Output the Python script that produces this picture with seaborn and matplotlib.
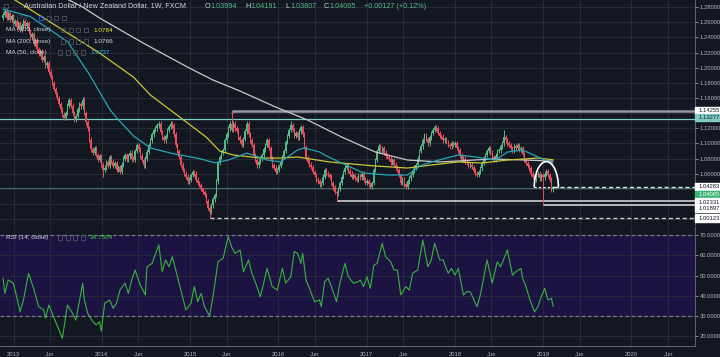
import numpy as np
import pandas as pd
import seaborn as sns
import matplotlib.pyplot as plt
from matplotlib.patches import Arc, Rectangle

# weekly closes, AUD/NZD (FXCM)
closes = [
    1.270, 1.275, 1.266, 1.272, 1.263, 1.268, 1.258, 1.262, 1.254, 1.259,
    1.250, 1.256, 1.262, 1.255, 1.259, 1.248, 1.240, 1.244, 1.232, 1.236,
    1.225, 1.218, 1.222, 1.210, 1.214, 1.203, 1.206, 1.195, 1.188, 1.180,
    1.172, 1.165, 1.160, 1.152, 1.145, 1.138, 1.134, 1.140, 1.150, 1.157,
    1.150, 1.140, 1.131, 1.136, 1.145, 1.152, 1.149, 1.158, 1.140, 1.128,
    1.120, 1.105, 1.092, 1.088, 1.094, 1.085, 1.078, 1.083, 1.072, 1.065,
    1.068, 1.075, 1.070, 1.082, 1.076, 1.070, 1.074, 1.065, 1.069, 1.062,
    1.072, 1.080, 1.085, 1.079, 1.083, 1.088, 1.080, 1.078, 1.090, 1.098,
    1.092, 1.084, 1.078, 1.071, 1.080, 1.089, 1.098, 1.104, 1.112, 1.118,
    1.120, 1.124, 1.126, 1.115, 1.108, 1.104, 1.110, 1.118, 1.122, 1.126,
    1.124, 1.112, 1.098, 1.090, 1.082, 1.072, 1.065, 1.060, 1.056, 1.050,
    1.052, 1.058, 1.062, 1.060, 1.052, 1.048, 1.045, 1.040, 1.036, 1.032,
    1.024, 1.015, 1.010, 1.018, 1.026, 1.032, 1.050, 1.074, 1.082, 1.088,
    1.091, 1.104, 1.112, 1.120, 1.126, 1.118, 1.126, 1.120, 1.117, 1.108,
    1.104, 1.098, 1.106, 1.116, 1.126, 1.112, 1.104, 1.098, 1.085, 1.078,
    1.071, 1.076, 1.080, 1.085, 1.092, 1.098, 1.104, 1.094, 1.080, 1.071,
    1.068, 1.062, 1.065, 1.070, 1.076, 1.082, 1.090, 1.102, 1.110, 1.118,
    1.124, 1.118, 1.110, 1.114, 1.108, 1.116, 1.122, 1.112, 1.095, 1.081,
    1.076, 1.072, 1.069, 1.062, 1.058, 1.052, 1.050, 1.046, 1.048, 1.056,
    1.065, 1.060, 1.058, 1.056, 1.048, 1.042, 1.036, 1.034, 1.040, 1.048,
    1.056, 1.062, 1.068, 1.071, 1.064, 1.060, 1.056, 1.058, 1.054, 1.052,
    1.058, 1.055, 1.060, 1.052, 1.048, 1.050, 1.046, 1.043, 1.048, 1.065,
    1.078, 1.090, 1.096, 1.091, 1.094, 1.088, 1.084, 1.082, 1.080, 1.075,
    1.078, 1.072, 1.068, 1.065, 1.058, 1.048, 1.052, 1.046, 1.043, 1.050,
    1.054, 1.058, 1.064, 1.068, 1.071, 1.080, 1.090, 1.096, 1.104, 1.111,
    1.106, 1.100, 1.108, 1.114, 1.118, 1.122, 1.120, 1.114, 1.110, 1.109,
    1.104, 1.106, 1.102, 1.098, 1.096, 1.100, 1.098, 1.100, 1.094, 1.091,
    1.084, 1.078, 1.080, 1.076, 1.074, 1.070, 1.072, 1.069, 1.064, 1.060,
    1.058, 1.062, 1.067, 1.074, 1.080, 1.085, 1.090, 1.094, 1.088, 1.082,
    1.078, 1.084, 1.090, 1.091, 1.096, 1.100, 1.108, 1.104, 1.100, 1.098,
    1.094, 1.091, 1.096, 1.094, 1.098, 1.092, 1.094, 1.086, 1.078, 1.074,
    1.070, 1.067, 1.060, 1.056, 1.052, 1.058, 1.060, 1.054, 1.058, 1.055,
    1.060, 1.063, 1.058, 1.052, 1.0394, 1.04065,
]
first_open = 1.266
first_week = '2012-11-19'

# notable wick extremes (week index -> price)
wick_highs = {47: 1.162, 135: 1.14255, 170: 1.129, 256: 1.125, 296: 1.118}
wick_lows = {59: 1.055, 122: 1.00123, 197: 1.02331, 319: 1.01897}

# moving averages (week index, value)
ma50_idx = [0, 16, 38, 51, 63, 67, 77, 87, 100, 116, 125, 133, 144, 156, 164, 168, 174,
            178, 187, 190, 200, 213, 227, 239, 246, 253, 269, 279, 291, 298, 307, 316, 325]
ma50_val = [1.2774, 1.2677, 1.2346, 1.1910, 1.1450, 1.1340, 1.1100, 1.0940, 1.0867, 1.0800,
            1.0745, 1.0780, 1.0873, 1.0781, 1.0755, 1.0821, 1.0913, 1.0940, 1.0887, 1.0847,
            1.0741, 1.0609, 1.0583, 1.0583, 1.0700, 1.0755, 1.0847, 1.0821, 1.0781, 1.0887,
            1.0913, 1.0821, 1.0737]
ma100_idx = [0, 7, 57, 77, 87, 109, 120, 128, 136, 152, 164, 174, 193, 213, 220, 239, 253,
             269, 283, 298, 316, 325]
ma100_val = [1.298, 1.2895, 1.2194, 1.1877, 1.1640, 1.1270, 1.1084, 1.0900, 1.0847, 1.0807,
             1.0807, 1.0821, 1.0755, 1.0715, 1.0702, 1.0675, 1.0715, 1.0755, 1.0741, 1.0781,
             1.0807, 1.0784]
ma200_idx = [0, 14, 27, 47, 57, 83, 109, 124, 140, 161, 180, 200, 220, 239, 258, 289, 308, 325]
ma200_val = [1.325, 1.315, 1.303, 1.2802, 1.2657, 1.2323, 1.2008, 1.1838, 1.1692, 1.1481,
             1.1309, 1.1085, 1.0886, 1.0781, 1.0755, 1.0794, 1.0781, 1.0766]

# RSI(14)
rsi_idx = [0, 1, 3, 6, 8, 10, 12, 15, 18, 21,
           24, 25, 27, 29, 33, 35, 38, 41, 43, 47,
           48, 50, 53, 55, 57, 58, 60, 63, 65, 67,
           69, 72, 74, 76, 78, 79, 81, 84, 85, 88,
           92, 94, 96, 98, 100, 102, 105, 108, 111, 113,
           115, 117, 119, 122, 124, 127, 130, 133, 135, 137,
           140, 142, 145, 147, 150, 152, 156, 159, 162, 165,
           167, 170, 172, 174, 176, 177, 179, 181, 184, 187,
           188, 190, 192, 194, 197, 199, 202, 204, 207, 210,
           211, 213, 215, 217, 219, 221, 224, 226, 229, 231,
           233, 235, 238, 240, 242, 245, 248, 251, 253, 255,
           258, 260, 263, 265, 267, 269, 272, 274, 276, 280,
           282, 286, 289, 292, 294, 298, 301, 303, 306, 307,
           309, 311, 314, 316, 318, 320, 322, 324, 325]
rsi_val = [48.6, 41.2, 47.8, 46.2, 39.5, 32.1, 37.9, 51.1, 43.7, 34.6,
           33.0, 28.9, 35.4, 31.3, 23.0, 19.0, 35.4, 31.3, 28.0, 46.2,
           37.9, 31.3, 27.2, 25.6, 27.2, 22.5, 36.3, 37.9, 33.8, 36.3,
           42.8, 46.2, 41.2, 47.8, 52.7, 50.2, 45.3, 40.4, 54.3, 56.0,
           65.1, 51.9, 57.7, 54.3, 59.3, 52.7, 42.8, 33.0, 36.3, 44.5,
           37.1, 41.2, 34.6, 30.0, 39.5, 56.8, 58.5, 69.2, 64.2, 60.9,
           62.6, 51.9, 57.7, 51.1, 44.5, 39.5, 53.5, 44.5, 42.8, 53.5,
           46.2, 49.4, 61.8, 61.0, 56.0, 61.0, 47.8, 43.7, 37.1, 37.9,
           34.6, 47.0, 48.6, 44.5, 37.1, 46.2, 56.0, 49.4, 46.2, 47.0,
           47.8, 44.5, 49.4, 43.7, 55.0, 56.0, 65.9, 59.3, 56.8, 52.7,
           52.7, 40.4, 44.5, 42.8, 51.1, 52.7, 67.5, 54.3, 57.7, 65.9,
           57.7, 57.7, 51.1, 53.5, 50.2, 53.5, 40.4, 42.0, 42.0, 34.6,
           40.4, 57.7, 46.2, 56.8, 54.3, 62.6, 50.2, 51.9, 53.5, 48.6,
           44.5, 38.8, 32.1, 34.6, 39.5, 43.7, 37.9, 38.8, 34.75]

price_grid = [1.00, 1.02, 1.04, 1.06, 1.08, 1.10, 1.12, 1.14, 1.16, 1.18, 1.20, 1.22, 1.24, 1.26, 1.28]
price_hidden = [1.00, 1.02, 1.04, 1.14]
rsi_grid = [20, 30, 40, 50, 60, 70]

# horizontal levels drawn on the chart
lvl_top = 1.14255
lvl_teal = 1.13277
lvl_dash = 1.04283
lvl_last = 1.04065
lvl_w1 = 1.02331
lvl_w2 = 1.01897
lvl_low = 1.00123

BG = '#131722'
GRID = '#2a2e39'
TXT = '#b2b5be'
UP = '#53b987'
DOWN = '#eb4d5c'

sns.set_style('dark', {'axes.facecolor': BG, 'figure.facecolor': BG})
plt.rcParams['font.family'] = ['Liberation Sans', 'DejaVu Sans']

W, H = 720, 357


def px_box(x0, y0, x1, y1):
    return [x0 / W, 1 - y1 / H, (x1 - x0) / W, (y1 - y0) / H]


def ptext(x, y, s, **kw):
    kw.setdefault('va', 'center')
    kw.setdefault('fontsize', 4.6)
    return fig.text(x / W, 1 - y / H, s, **kw)


def icons(x0, y, n, first=None):
    # little button squares next to each legend row
    for i in range(n):
        c = first if (first and i == 0) else '#50535e'
        fig.patches.append(Rectangle(((x0 + i * 7.5) / W, 1 - (y + 2.2) / H), 4.4 / W, 4.4 / H,
                                     transform=fig.transFigure, facecolor='none', edgecolor=c,
                                     lw=0.6, zorder=5))


fig = plt.figure(figsize=(7.2, 3.57), dpi=100)
ax = fig.add_axes(px_box(0, 0, 695, 225))
ax_rsi = fig.add_axes(px_box(0, 227, 695, 346), sharex=ax)

dates = pd.date_range(first_week, periods=len(closes), freq='7D')
df = pd.DataFrame({'date': dates, 'close': closes})
df['open'] = df['close'].shift(1).fillna(first_open)
df['high'] = df[['open', 'close']].max(axis=1) + 0.003
df['low'] = df[['open', 'close']].min(axis=1) - 0.003
for k, v in wick_highs.items():
    df.loc[k, 'high'] = v
for k, v in wick_lows.items():
    df.loc[k, 'low'] = v
cols = np.where(df['close'] >= df['open'], UP, DOWN)

# horizontal levels (behind candles)
x_end = pd.Timestamp('2020-10-01')
ax.axhline(lvl_teal, color='#80cbc4', lw=0.9, zorder=1)
ax.axhline(lvl_last, color='#3f6f6c', lw=0.7, zorder=1)
ax.hlines(lvl_top, dates[135], x_end, color='#9598a1', lw=1.8, zorder=1)
ax.vlines(dates[135], lvl_top - 0.004, lvl_top, color='#9598a1', lw=1.0, zorder=1)
ax.hlines(lvl_w1, dates[197], x_end, color='#e0e0e0', lw=1.1, zorder=1)
ax.hlines(lvl_w2, dates[319], x_end, color='#e0e0e0', lw=1.1, zorder=1)
ax.hlines(lvl_low, dates[122], x_end, color='#c8c8c8', lw=1.0, ls=(0, (3, 2)), zorder=1)
ax.hlines(lvl_dash, dates[-1], x_end, color='#e0e0e0', lw=1.0, ls=(0, (3, 2)), zorder=1)

# candles
ax.vlines(df['date'], df['low'], df['high'], colors=cols, lw=0.7, zorder=3)
body = (df['close'] - df['open']).abs().clip(lower=0.0010)
ax.bar(df['date'], body, bottom=df[['open', 'close']].min(axis=1), width=5.5,
       color=cols, linewidth=0, zorder=3)

# moving averages
for idx, val, c in [(ma200_idx, ma200_val, '#c9c9c9'), (ma100_idx, ma100_val, '#c8c832'),
                    (ma50_idx, ma50_val, '#26a6b4')]:
    sns.lineplot(x=dates[idx], y=val, ax=ax, color=c, lw=0.9, sort=False, zorder=4)

# arc drawn over the last candles
arc_mid = dates[321]
ax.add_patch(Arc((arc_mid, 1.042), 100, 0.068, theta1=0, theta2=180,
                 color='white', lw=1.2, zorder=5))
ax.hlines(1.042, arc_mid - pd.Timedelta(days=50), arc_mid + pd.Timedelta(days=50),
          color='white', lw=0.8, ls=(0, (2, 2)), zorder=5)

# RSI pane
ax_rsi.axhspan(30, 70, color='#1d1342', zorder=0)
for lv in (30, 70):
    ax_rsi.axhline(lv, color='#787b86', lw=0.9, ls=(0, (3, 2)), zorder=1)
sns.lineplot(x=dates[rsi_idx], y=rsi_val, ax=ax_rsi, color='#35b53e', lw=0.8, sort=False, zorder=3)

# axes styling
x_ticks, x_labels = [], []
for yr in range(2013, 2021):
    x_ticks += [pd.Timestamp(f'{yr}-01-01'), pd.Timestamp(f'{yr}-06-01')]
    x_labels += [str(yr), 'Jun']

for a in (ax, ax_rsi):
    a.set_facecolor(BG)
    a.grid(True, color=GRID, lw=0.6, zorder=0)
    a.set_axisbelow(True)
    a.set_xlabel('')
    a.set_ylabel('')
    for s in ('top', 'left', 'bottom'):
        a.spines[s].set_visible(False)
    a.spines['right'].set_color('#5d606b')
    a.spines['right'].set_linewidth(0.8)
    a.yaxis.tick_right()
    a.tick_params(axis='y', length=2, width=0.5, colors=TXT, labelsize=4.2, pad=1.5)

ax.set_xlim(pd.Timestamp('2012-11-06'), pd.Timestamp('2020-09-20'))
ax.set_ylim(0.99223, 1.2895)
ax.set_yticks(price_grid)
ax.set_yticklabels(['' if p in price_hidden else f'{p:.5f}' for p in price_grid])
ax.tick_params(axis='x', length=0, labelbottom=False)

ax_rsi.set_ylim(15.2, 73.95)
ax_rsi.set_yticks(rsi_grid)
ax_rsi.set_yticklabels([f'{v:.4f}' for v in rsi_grid])
ax_rsi.set_xticks(x_ticks)
ax_rsi.set_xticklabels(x_labels)
ax_rsi.tick_params(axis='x', length=0, colors=TXT, labelsize=4.2, pad=4)
ax_rsi.spines['bottom'].set_visible(True)
ax_rsi.spines['bottom'].set_color('#5d606b')
ax_rsi.spines['bottom'].set_linewidth(0.8)

# price tags on the right scale
for y, s, bg, fg in [(110.3, '1.14255', '#ffffff', '#131722'), (117.7, '1.13277', '#80cbc4', '#131722'),
                     (186.2, '1.04283', '#ffffff', '#131722'), (194.3, '1.04065', '#3cb371', '#ffffff'),
                     (202.0, '1.02331', '#ffffff', '#131722'), (208.7, '1.01897', '#ffffff', '#131722'),
                     (218.0, '1.00123', '#ffffff', '#131722')]:
    fig.patches.append(Rectangle((695 / W, 1 - (y + 3.6) / H), 25 / W, 7.2 / H,
                                 transform=fig.transFigure, color=bg, zorder=5))
    ptext(699, y, s, color=fg, fontsize=4.2, zorder=6)

# legends
icons(4, 6, 1)
ptext(24, 6, 'Australian Dollar / New Zealand Dollar, 1W, FXCM', color='#d1d4dc', fontsize=5.2)
ohlc = [('O', '1.03994', 205), ('H', '1.04191', 245), ('L', '1.03807', 285), ('C', '1.04065', 324)]
for k, v, x in ohlc:
    ptext(x, 6, k, color='#d1d4dc', fontsize=5.2)
    ptext(x + 5, 6, v, color=UP, fontsize=5.2)
ptext(364, 6, '+0.00127 (+0.12%)', color=UP, fontsize=5.2)

ptext(6, 18, 'Vol (20)', color='#d1d4dc', fontsize=4.6, alpha=0.35)
icons(39, 18, 4, first='#2962ff')
for lbl, val, y, c, ix in [('MA (100, close)', '1.0784', 30, '#e8e82a', 61),
                           ('MA (200, close)', '1.0766', 41.5, '#e0e0e0', 61),
                           ('MA (50, close)', '1.0737', 52.5, '#26c6da', 58)]:
    ptext(6, y, lbl, color='#d1d4dc', fontsize=4.6)
    icons(ix, y, 4)
    ptext(ix + 32, y, val, color=c, fontsize=4.6)
ptext(6, 237.5, 'RSI (14, close)', color='#d1d4dc', fontsize=4.6)
icons(58, 237.5, 4)
ptext(90, 237.5, '34.7504', color='#35d13e', fontsize=4.6)

fig.savefig('out.png', dpi=100, facecolor=BG)
